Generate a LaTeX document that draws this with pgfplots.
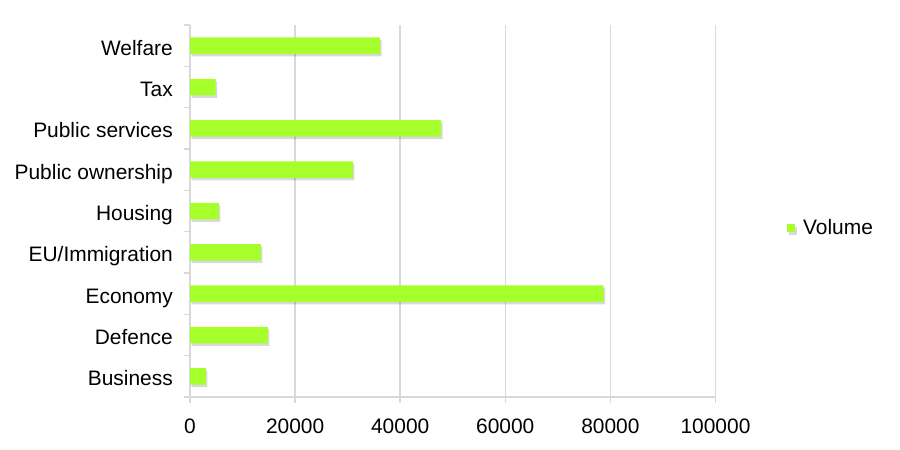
\documentclass[border=0pt]{standalone}
\usepackage{pgfplots}
\pgfplotsset{compat=1.18}
\usepackage{fontspec}
\setmainfont{Liberation Sans}
\usetikzlibrary{shadows}
\definecolor{barg}{HTML}{A6FF2A}
\definecolor{gridg}{HTML}{D9D9D9}
\begin{document}
\begin{tikzpicture}
\path[use as bounding box] (0,0) rectangle (900bp,450bp);
\begin{axis}[
  at={(190bp,53bp)}, anchor=south west,
  scale only axis, width=525.5bp, height=372bp,
  xbar, bar width=16.5bp,
  xmin=0, xmax=100000, ymin=-0.5, ymax=8.5,
  xtick={0,20000,40000,60000,80000,100000},
  xticklabels={0,20000,40000,60000,80000,100000},
  scaled x ticks=false,
  ytick={0,...,8},
  yticklabels={Business,Defence,Economy,EU/Immigration,Housing,Public ownership,Public services,Tax,Welfare},
  minor ytick={-0.5,0.5,...,8.5},
  major y tick style={draw=none},
  minor y tick style={gridg, line width=1.5bp},
  minor tick length=6bp,
  major tick length=6bp,
  tick align=outside,
  x tick style={gridg, line width=1.5bp},
  axis lines*=left,
  axis line style={gridg, line width=1.5bp},
  xmajorgrids,
  grid style={gridg, line width=1.5bp},
  tick label style={font=\fontsize{21}{25}\selectfont, text=black},
  yticklabel style={inner sep=0pt, anchor=base east, xshift=-11bp, yshift=-9.5bp},
  xticklabel style={yshift=-12bp},
  legend style={at={(1.136,0.454)}, anchor=west, draw=none, fill=none,
    font=\fontsize{21}{25}\selectfont, inner sep=0pt,
    /tikz/every odd column/.append style={column sep=6bp}},
  legend image code/.code={\fill[barg] (0bp,-4bp) rectangle (8bp,4bp);},
]
\addplot[fill=barg, draw=none,
  drop shadow={shadow xshift=1.5bp, shadow yshift=-2.5bp, fill=black, opacity=0.15}]
  coordinates {
  (3000,0) (14800,1) (78700,2) (13500,3) (5500,4) (31000,5) (47800,6) (4900,7) (36200,8)
};
\addlegendentry{Volume}
\end{axis}
\end{tikzpicture}
\end{document}
